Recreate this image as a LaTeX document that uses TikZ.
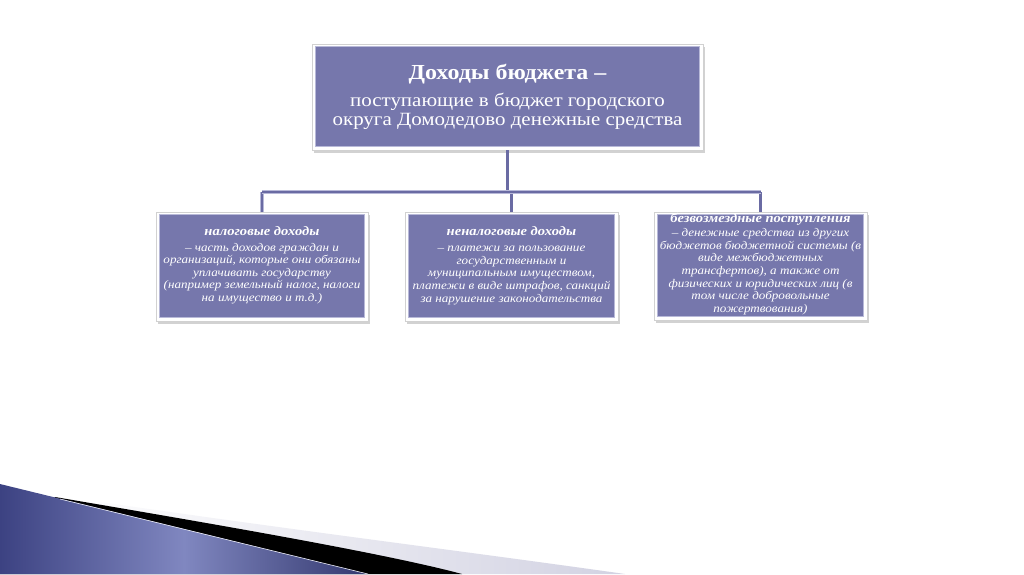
\documentclass[tikz,border=0pt]{standalone}
\usepackage{fontspec}
\setmainfont{Liberation Serif}[FakeStretch=1.12]
\usetikzlibrary{shadows,calc}
\definecolor{boxc}{HTML}{7677AC}
\definecolor{rimc}{HTML}{B8B9D8}
\definecolor{linec}{HTML}{6A6BA3}
\definecolor{bluedark}{HTML}{3C4282}
\definecolor{bluelight}{HTML}{8087C0}
\definecolor{bandgrey}{HTML}{D2D2E2}
\tikzset{
  frame/.style={rectangle, fill=white, draw=black!18, line width=0.5pt, inner sep=0pt,
    drop shadow={opacity=0.35, shadow xshift=2pt, shadow yshift=-2.5pt}},
  inner/.style={fill=boxc, draw=rimc, line width=1pt},
  bigtext/.style={text=white, align=center, font=\fontsize{18.7}{19.5}\selectfont},
  smalltext/.style={text=white, align=center, font=\fontsize{11.7}{12.6}\selectfont\itshape},
  conn/.style={draw=rimc, double=linec, double distance=2.2pt, line width=0.7pt}
}
\begin{document}
\begin{tikzpicture}[x=1pt,y=-1pt]
\useasboundingbox (0,0) rectangle (1024,574);
\fill[white] (0,0) rectangle (1024,574);

% bottom-left decoration
\shade[left color=white, right color=bandgrey] (100,502) .. controls (300,531) and (470,552) .. (625,574) -- (60,574) -- cycle;
\fill[black] (55,497) .. controls (190,520) and (380,552) .. (462,574) -- (0,574) -- cycle;
\shade[left color=bluedark, right color=bluedark!85!black, middle color=bluelight] (0,484) -- (368,574) -- (0,574) -- cycle;
\draw[white!85!bluelight, line width=0.6pt] (60,499) -- (368,574);

% boxes
\node[frame, minimum width=391pt, minimum height=106pt] (top) at (507.5,97) {};
\node[frame, minimum width=212pt, minimum height=109pt] (b1) at (262,266.5) {};
\node[frame, minimum width=213pt, minimum height=109pt] (b2) at (511.5,266.5) {};
\node[frame, minimum width=213pt, minimum height=108pt] (b3) at (760.5,266) {};
\foreach \n in {top,b1,b2,b3}{
  \draw[inner] ($(\n.north west)+(4,3)$) rectangle ($(\n.south east)+(-4,-4)$);
}

% connectors
\coordinate (hl) at (263,192);
\draw[conn] (b1.north) -- (b1.north |- hl);
\draw[conn] (b2.north) -- (b2.north |- hl);
\draw[conn] (b3.north) -- (b3.north |- hl);
\draw[conn] (top.south) -- (top.south |- hl);
\draw[conn] (b1.north |- hl) -- (b3.north |- hl);

% texts
\node[bigtext] (ttop) at (507.5,97) {{\fontsize{21.4}{22}\selectfont\bfseries Доходы бюджета –}\\[7pt]поступающие в бюджет городского\\округа Домодедово денежные средства};
\node[smalltext] (t1) at (262,265) {{\fontsize{13}{13}\selectfont\bfseries налоговые доходы}\\[3.5pt]– часть доходов граждан и\\организаций, которые они обязаны\\уплачивать государству\\(например земельный налог, налоги\\на имущество и т.д.)};
\node[smalltext] (t2) at (511.5,265.5) {{\fontsize{13}{13}\selectfont\bfseries неналоговые доходы}\\[3.5pt]– платежи за пользование\\государственным и\\муниципальным имуществом,\\платежи в виде штрафов, санкций\\за нарушение законодательства};
\node[smalltext] (t3) at (760.5,264) {{\fontsize{13}{13}\selectfont\bfseries безвозмездные поступления}\\[1.5pt]– денежные средства из других\\бюджетов бюджетной системы (в\\виде межбюджетных\\трансфертов), а также от\\физических и юридических лиц (в\\том числе добровольные\\пожертвования)};
\end{tikzpicture}
\end{document}
